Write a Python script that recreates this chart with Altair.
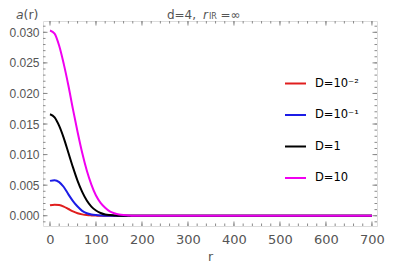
import altair as alt
import pandas as pd

# radial coordinate samples
r_vals = [0, 10, 20, 30, 40, 50, 60, 70, 80, 90, 100, 110, 120, 130, 140, 150, 160, 170, 180, 190, 200, 700]

# series values
a_d001 = [0.0017, 0.0018, 0.00175, 0.0015, 0.0011, 0.0007, 0.0004, 0.00022, 0.0001, 0.00005, 0.00002, 0, 0, 0, 0, 0, 0, 0, 0, 0, 0, 0]
a_d01 = [0.0057, 0.0058, 0.0055, 0.0047, 0.0035, 0.0024, 0.0015, 0.0008, 0.0004, 0.0002, 0.0001, 0.00004, 0, 0, 0, 0, 0, 0, 0, 0, 0, 0]
a_d1 = [0.0166, 0.0161, 0.0147, 0.0127, 0.0103, 0.0079, 0.0057, 0.0039, 0.0025, 0.0015, 0.00085, 0.00045, 0.0002, 0.0001, 0.00005, 0, 0, 0, 0, 0, 0, 0]
a_d10 = [0.0303, 0.0298, 0.0278, 0.0248, 0.0213, 0.0174, 0.0137, 0.0103, 0.0074, 0.0051, 0.0033, 0.0021, 0.0013, 0.0007, 0.0004, 0.0002, 0.0001, 0.00005, 0, 0, 0, 0]

series_names = ["D=10⁻²", "D=10⁻¹", "D=1", "D=10"]
series_colors = ["#e01e1e", "#1c1ce6", "#000000", "#f000f0"]

x_major = [0, 100, 200, 300, 400, 500, 600, 700]
x_minor = list(range(0, 701, 20))
y_major = [0.000, 0.005, 0.010, 0.015, 0.020, 0.025, 0.030]
y_minor = [round(-0.001 + 0.001 * i, 3) for i in range(33)]

X_DOMAIN = [-15.2, 711]
Y_DOMAIN = [-0.00168, 0.03185]
W, H = 334, 205
GRAY = "#555555"
TICK = "#8a8a8a"
FONT = "DejaVu Sans"

rows = []
for name, vals in zip(series_names, [a_d001, a_d01, a_d1, a_d10]):
    for r, v in zip(r_vals, vals):
        rows.append({"r": r, "a": v, "series": name})
df = pd.DataFrame(rows)

xs = alt.Scale(domain=X_DOMAIN, nice=False, zero=False)
ys = alt.Scale(domain=Y_DOMAIN, nice=False, zero=False)
x_axis = alt.Axis(values=x_major, title=None, tickSize=0, grid=False,
                  labelColor=GRAY, labelFontSize=13, labelPadding=7,
                  domain=False, labelFont=FONT, labelOverlap=False)
y_axis = alt.Axis(values=y_major, format=".3f", title=None, tickSize=0,
                  grid=False, labelColor=GRAY, labelFontSize=12,
                  labelPadding=4, domain=False,
                  labelFont="Liberation Sans", labelOverlap=False)

lines = alt.Chart(df).mark_line(strokeWidth=2, interpolate="monotone").encode(
    x=alt.X("r:Q", scale=xs, axis=x_axis),
    y=alt.Y("a:Q", scale=ys, axis=y_axis),
    color=alt.Color("series:N",
                    scale=alt.Scale(domain=series_names, range=series_colors),
                    sort=series_names,
                    legend=alt.Legend(orient="none", legendX=241, legendY=51, title=None,
                                      symbolType="stroke", symbolSize=440, symbolStrokeWidth=2,
                                      labelFontSize=11.5, labelColor="#000000", labelOffset=8,
                                      rowPadding=14.5, padding=0, labelFont=FONT)),
)

dfx_major = pd.DataFrame({"v": x_major})
dfx_minor = pd.DataFrame({"v": x_minor})
dfy_major = pd.DataFrame({"v": y_major})
dfy_minor = pd.DataFrame({"v": y_minor})


def xticks(d, length):
    bot = alt.Chart(d).mark_rule(color=TICK, strokeWidth=1).encode(
        x=alt.X("v:Q", scale=xs, axis=x_axis), y=alt.value(H), y2=alt.value(H - length))
    top = alt.Chart(d).mark_rule(color=TICK, strokeWidth=1).encode(
        x=alt.X("v:Q", scale=xs, axis=x_axis), y=alt.value(0), y2=alt.value(length))
    return [bot, top]


def yticks(d, length):
    left = alt.Chart(d).mark_rule(color=TICK, strokeWidth=1).encode(
        y=alt.Y("v:Q", scale=ys, axis=y_axis), x=alt.value(0), x2=alt.value(length))
    right = alt.Chart(d).mark_rule(color=TICK, strokeWidth=1).encode(
        y=alt.Y("v:Q", scale=ys, axis=y_axis), x=alt.value(W), x2=alt.value(W - length))
    return [left, right]


def label(text, x, y, size=12, style="normal", align="left", color=GRAY):
    return alt.Chart(pd.DataFrame({"t": [text]})).mark_text(
        align=align, baseline="middle", fontSize=size, fontStyle=style, color=color,
        font=FONT).encode(text="t:N", x=alt.value(x), y=alt.value(y))


texts = [
    label("d=4,", 153, -6.5, align="right"),
    label("r", 160, -6.5, style="italic"),
    label("IR", 166, -4.5, size=8),
    label("=∞", 177.5, -6.5),
    label("a", -27, -6.5, style="italic", size=12.5),
    label("(r)", -19.5, -6.5, size=12.5),
    label("r", 165, 236, size=12.5),
]

chart = alt.layer(
    lines,
    *xticks(dfx_minor, 2.5), *xticks(dfx_major, 4.5),
    *yticks(dfy_minor, 2.5), *yticks(dfy_major, 4.5),
    *texts
).properties(
    width=W, height=H,
    autosize=alt.AutoSizeParams(type="none"),
    padding={"left": 35, "top": 13, "right": 14, "bottom": 40},
).configure_view(stroke="#9a9a9a", strokeWidth=1).configure(background="white")

chart.save("out.html", embed_options={"renderer": "svg", "actions": False})
